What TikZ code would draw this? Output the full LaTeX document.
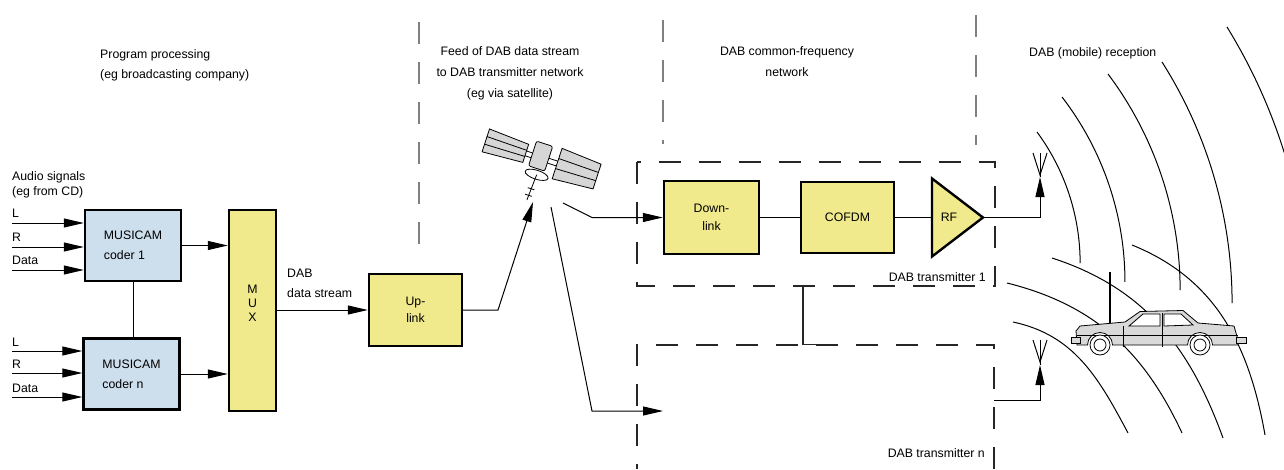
\documentclass[tikz,border=0pt]{standalone}
\usepackage{fontspec}
\setmainfont{Liberation Sans}
\usetikzlibrary{arrows.meta}
\definecolor{boxyellow}{RGB}{240,234,140}
\definecolor{boxblue}{RGB}{205,222,236}
\definecolor{panelgray}{RGB}{214,214,214}

\begin{document}
\begin{tikzpicture}[x=10pt,y=10pt]
      \tikzstyle{every node}+=[inner sep=0pt, font=\fontsize{12.3}{20}\selectfont]
      \tikzstyle{block}=[draw=black, line width=2.4pt, fill=boxyellow, align=center]
      \tikzstyle{coder}=[block, fill=boxblue, align=left, minimum width=96pt, minimum height=71pt]
      \tikzstyle{wire}=[black, line width=1pt]
      \tikzstyle{feed}=[wire, -{Triangle[length=20pt,width=9pt]}]
      \tikzstyle{region}=[black!85, line width=1.2pt, dash pattern=on 22pt off 18pt]
      \tikzstyle{divider}=[black!50, line width=1.2pt, dash pattern=on 22pt off 18pt]
      \useasboundingbox (0,0) rectangle (128.4,-46.9);
      % section titles
      \node[anchor=north west, align=left] (progtitle) at (10.0,-4.95) {Program processing\\(eg broadcasting company)};
      \node[anchor=north, align=center, font=\fontsize{12.3}{21}\selectfont] (feedtitle) at (51.0,-4.62) {Feed of DAB data stream\\to DAB transmitter network\\(eg via satellite)};
      \node[anchor=north, align=center, font=\fontsize{12.3}{21}\selectfont] (sfntitle) at (78.7,-4.62) {DAB common-frequency\\network};
      \node[anchor=base west] (rxtitle) at (102.9,-5.6) {DAB (mobile) reception};
      \draw[divider] (41.9,-2.2) -- (41.9,-25.0);
      \draw[divider] (66.3,-2.0) -- (66.3,-14.4);
      \draw[divider] (97.6,-1.5) -- (97.6,-14.5);
      % audio coders and multiplexer
      \node[anchor=north west, align=left, font=\fontsize{12.3}{15}\selectfont] (audiotitle) at (1.2,-17.1) {Audio signals\\(eg from CD)};
      \node[coder] (coder1) at (13.3,-24.55) {MUSICAM\\coder 1};
      \node[coder] (codern) at (13.15,-37.4) {MUSICAM\\coder n};
      \node[block, minimum width=47pt, minimum height=201pt] (mux) at (25.25,-31.05) {};
      \node[align=center, font=\fontsize{12.3}{14}\selectfont] (muxlabel) at (25.25,-30.3) {M\\U\\X};
      \foreach \y/\lab in {22.3/L, 24.7/R, 27.0/Data} {
        \coordinate (c1in\lab) at (1.2,-\y);
        \draw[feed] (c1in\lab) -- (c1in\lab -| coder1.west);
        \node[anchor=base west] (c1lab\lab) at (1.2,{0.6-\y}) {\lab};
      }
      \foreach \y/\lab in {35.1/L, 37.3/R, 39.7/Data} {
        \coordinate (cnin\lab) at (1.2,-\y);
        \draw[feed] (cnin\lab) -- (cnin\lab -| codern.west);
        \node[anchor=base west] (cnlab\lab) at (1.2,{0.5-\y}) {\lab};
      }
      \draw[wire] (coder1.south) -- (coder1.south |- codern.north);
      \draw[feed] (coder1.east) -- (coder1.east -| mux.west);
      \draw[feed] (codern.east) -- (codern.east -| mux.west);
      % uplink
      \node[block, minimum width=93pt, minimum height=72pt, font=\fontsize{12.3}{17}\selectfont] (uplink) at (41.55,-31.0) {Up-\\link};
      \draw[feed] (mux.east |- uplink.west) -- (uplink.west);
      \node[anchor=north west, align=left] (streamlabel) at (28.7,-26.85) {DAB\\data stream};
      % satellite
      \begin{scope}[shift={(54.0,-15.8)}, rotate=-18, line width=0.8pt]
        \draw (-1.5,0.25) -- (1.8,0.25);
        \draw (-1.5,-0.25) -- (1.8,-0.25);
        \draw[fill=panelgray] (-1.5,0.95) -- (-5.7,1.2) -- (-5.7,-1.2) -- (-1.5,-0.95) -- cycle;
        \draw (-1.5,0.32) -- (-5.7,0.4);
        \draw (-1.5,-0.32) -- (-5.7,-0.4);
        \draw[fill=panelgray] (1.8,1.6) -- (6.0,1.3) -- (6.0,-1.3) -- (1.8,-1.6) -- cycle;
        \draw (1.8,0.53) -- (6.0,0.43);
        \draw (1.8,-0.53) -- (6.0,-0.43);
        \draw[fill=panelgray, rounded corners=2pt] (-0.85,-1.1) rectangle (0.85,1.5);
        \draw (0.2,-1.7) -- (0.05,-4.4);
        \draw (-0.25,-3.2) -- (0.45,-3.2);
        \draw (-0.3,-3.9) -- (0.4,-3.9);
        \draw (0.2,-1.7) ellipse (1.2 and 0.45);
      \end{scope}
      \coordinate (upbend) at (49.8,-31.0);
      \coordinate (sattx) at (53.3,-20.2);
      \draw[feed] (uplink.east) -- (upbend) -- (sattx);
      % transmitter 1
      \draw[region] (63.7,-16.2) rectangle (99.5,-28.6);
      \node[block, minimum width=95pt, minimum height=73pt, font=\fontsize{12.3}{18}\selectfont] (downlink) at (71.15,-21.75) {Down-\\link};
      \node[block, minimum width=93pt, minimum height=71pt] (cofdm) at (84.75,-21.75) {COFDM};
      \draw[block] (93.2,-17.85) -- (98.3,-21.75) -- (93.2,-25.65) -- cycle;
      \coordinate (rfin) at (93.2,-21.75);
      \coordinate (rfout) at (98.3,-21.75);
      \node (rf) at (94.9,-21.75) {RF};
      \node[anchor=base east] (tx1label) at (98.6,-28.1) {DAB transmitter 1};
      \coordinate (satrx1) at (56.3,-20.3);
      \coordinate (dnbend1) at (59.2,-21.75);
      \draw[feed] (satrx1) -- (dnbend1) -- (downlink.west);
      \draw[wire] (downlink.east) -- (cofdm.west);
      \draw[wire] (cofdm.east) -- (rfin);
      \coordinate (ant1) at (104.0,-17.7);
      \draw[feed] (rfout) -- (rfout -| ant1) -- (ant1);
      \draw[wire] (ant1) -- (104.0,-15.3);
      \draw[wire] (103.3,-15.3) -- (104.0,-17.5) -- (104.7,-15.3);
      % transmitter n
      \draw[region] (99.4,-46.9) -- (99.4,-34.5) -- (63.7,-34.5) -- (63.7,-46.9);
      \draw[wire, black!85, line width=1.2pt] (80.3,-28.6) -- (80.3,-34.45) -- (82.2,-34.45);
      \node[anchor=base east] (txnlabel) at (98.5,-45.7) {DAB transmitter n};
      \coordinate (satrx2) at (55.1,-20.7);
      \coordinate (dnbend2) at (59.2,-41.1);
      \coordinate (txnin) at (66.3,-41.1);
      \draw[feed] (satrx2) -- (dnbend2) -- (txnin);
      \coordinate (txnout) at (99.4,-40.0);
      \coordinate (antn) at (104.0,-36.5);
      \draw[feed] (txnout) -- (txnout -| antn) -- (antn);
      \draw[wire] (antn) -- (104.0,-34.0);
      \draw[wire] (103.3,-34.0) -- (104.0,-36.2) -- (104.7,-34.0);
      % radio waves
      \draw[wire] (103.7,-13.2) arc[start angle=36.4, end angle=0, radius=22.1];
      \draw[wire] (106.2,-9.7) arc[start angle=37.6, end angle=0, radius=30.3];
      \draw[wire] (110.8,-7.4) arc[start angle=36.9, end angle=0, radius=36.0];
      \draw[wire] (116.2,-6.2) arc[start angle=32.4, end angle=0, radius=45.0];
      \draw[wire] (122.7,-2.7) arc[start angle=31.6, end angle=16, radius=55.7];
      \draw[wire] (101.3,-32.2) to[out=-12, in=118] (112.8,-43.3);
      \draw[wire] (100.7,-28.3) to[out=-14, in=115] (118.2,-43.3);
      \draw[wire] (105.2,-25.8) to[out=-18, in=110] (122.3,-43.8);
      \draw[wire] (113.2,-24.5) to[out=-22, in=100] (126.5,-43.5);
      % car
      \begin{scope}[line width=0.8pt]
        \draw[line width=2.4pt] (111.0,-27.2) -- (111.0,-32.6);
        \draw[fill=black!15] (107.7,-34.5) -- (107.6,-33.1) -- (108.0,-32.6) -- (112.5,-32.2) -- (114.0,-31.15)
          -- (118.3,-31.05) -- (119.8,-32.3) -- (123.4,-32.6) -- (123.8,-34.0) -- (123.8,-34.5) -- (121.25,-34.5)
          arc[start angle=0, end angle=180, radius=1.25] -- (111.25,-34.5)
          arc[start angle=0, end angle=180, radius=1.25] -- cycle;
        \draw[fill=white] (112.9,-32.6) -- (114.3,-31.4) -- (116.0,-31.4) -- (116.0,-32.6) -- cycle;
        \draw[fill=white] (116.4,-31.4) -- (118.1,-31.4) -- (119.3,-32.5) -- (116.4,-32.6) -- cycle;
        \draw (107.7,-33.5) -- (123.8,-33.5);
        \draw (112.3,-32.6) -- (112.3,-34.7);
        \draw (116.2,-31.3) -- (116.2,-34.7);
        \draw[fill=black!15] (107.1,-33.7) rectangle (108.0,-34.3);
        \draw[fill=black!15] (123.6,-33.7) rectangle (124.6,-34.3);
        \draw[fill=white] (110.0,-34.5) circle (1.0);
        \draw (110.0,-34.5) circle (0.6);
        \draw[fill=white] (120.0,-34.5) circle (1.0);
        \draw (120.0,-34.5) circle (0.6);
      \end{scope}
\end{tikzpicture}
\end{document}
